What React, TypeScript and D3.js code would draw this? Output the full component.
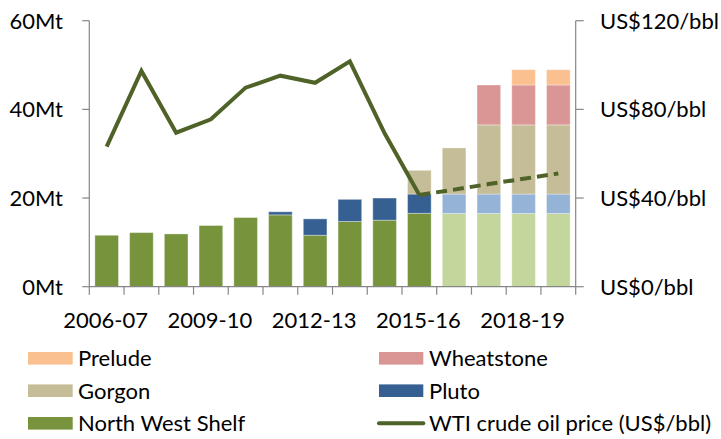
import React from "react";
import * as d3 from "d3";

const years = ["2006-07","2007-08","2008-09","2009-10","2010-11","2011-12","2012-13","2013-14","2014-15","2015-16","2016-17","2017-18","2018-19","2019-20"];
const forecastFrom = 10; // index of first projected year
const northWestShelf = [11.6, 12.2, 11.9, 13.8, 15.6, 16.2, 11.6, 14.7, 15.0, 16.55, 16.5, 16.5, 16.5, 16.5];
const pluto = [0, 0, 0, 0, 0, 0.7, 3.7, 5.0, 5.0, 4.35, 4.4, 4.4, 4.4, 4.4];
const gorgon = [0, 0, 0, 0, 0, 0, 0, 0, 0, 5.35, 10.4, 15.6, 15.6, 15.6];
const wheatstone = [0, 0, 0, 0, 0, 0, 0, 0, 0, 0, 0, 9.0, 9.0, 9.0];
const prelude = [0, 0, 0, 0, 0, 0, 0, 0, 0, 0, 0, 0, 3.45, 3.45];
const wtiActual = [63.2, 97.3, 69.5, 75.5, 89.8, 95.2, 92.0, 101.7, 69.2, 41.4];
const wtiForecast = [41.4, 43.8, 46.3, 48.7, 51.1]; // 2015-16 .. 2019-20
const leftTicks = [0, 20, 40, 60];
const rightTicks = [0, 40, 80, 120];
const xLabelYears = ["2006-07", "2009-10", "2012-13", "2015-16", "2018-19"];

const seriesDefs = [
  { key: "North West Shelf", values: northWestShelf, color: "#77933C", light: "#C3D69B" },
  { key: "Pluto", values: pluto, color: "#376092", light: "#95B3D7" },
  { key: "Gorgon", values: gorgon, color: "#C4BD97", light: "#C4BD97" },
  { key: "Wheatstone", values: wheatstone, color: "#DA9694", light: "#DA9694" },
  { key: "Prelude", values: prelude, color: "#FAC090", light: "#FAC090" },
];

const W = 721, H = 439;
const left = 89.3, right = 575.7, top = 20.7, bottom = 286.7;
const FONT = "Lato, 'Open Sans', sans-serif";
const FS = 22;
const AXIS = "#868686";
const LINE = "#4F6228";

export default function App() {
  const x = d3.scaleBand<string>().domain(years).range([left, right]).paddingInner(0.32).paddingOuter(0.16);
  const yL = d3.scaleLinear().domain([0, 60]).range([bottom, top]);
  const yR = d3.scaleLinear().domain([0, 120]).range([bottom, top]);
  const stack = d3.stack<number>().keys(seriesDefs.map((_, i) => String(i))).value((d, k) => seriesDefs[+k].values[d]);
  const stacked = stack(years.map((_, i) => i));
  const step = x.step();
  const cx = (i: number) => (x(years[i]) as number) + x.bandwidth() / 2;

  const line = d3.line<[number, number]>().x(d => d[0]).y(d => d[1]);
  const actualPts: [number, number][] = wtiActual.map((v, i) => [cx(i), yR(v)]);
  const forecastPts: [number, number][] = wtiForecast.map((v, i) => [cx(i + wtiActual.length - 1), yR(v)]);

  const legendLeft = [
    { label: "Prelude", color: "#FAC090" },
    { label: "Gorgon", color: "#C4BD97" },
    { label: "North West Shelf", color: "#77933C" },
  ];
  const legendRight = [
    { label: "Wheatstone", color: "#DA9694" },
    { label: "Pluto", color: "#376092" },
    { label: "WTI crude oil price (US$/bbl)", color: LINE, line: true },
  ];
  const rowY = [358.3, 390.7, 423.3];

  return (
    <svg width={W} height={H} style={{ position: "absolute", left: 0, top: 0, background: "#fff" }} fontFamily={FONT}>
      {/* bars */}
      {stacked.map((layer, li) => (
        <g key={li}>
          {layer.map((d, i) => {
            const h = yL(d[0]) - yL(d[1]);
            if (h <= 0.01) return null;
            const def = seriesDefs[li];
            return (
              <rect key={i} x={x(years[i])} y={yL(d[1])} width={x.bandwidth()} height={h}
                fill={i >= forecastFrom ? def.light : def.color}
                stroke="#ffffff" strokeOpacity={0.35} strokeWidth={1} />
            );
          })}
        </g>
      ))}
      {/* axes */}
      <line x1={left} x2={left} y1={top} y2={bottom} stroke={AXIS} strokeWidth={1.2} />
      <line x1={right} x2={right} y1={top} y2={bottom} stroke={AXIS} strokeWidth={1.2} />
      <line x1={left} x2={right} y1={bottom} y2={bottom} stroke={AXIS} strokeWidth={1.2} />
      {leftTicks.map(t => (
        <g key={"l" + t}>
          <line x1={left - 7} x2={left} y1={yL(t)} y2={yL(t)} stroke={AXIS} strokeWidth={1.2} />
          <text x={63} y={yL(t) + 7.9} textAnchor="end" fontSize={FS} fill="#000">{t}Mt</text>
        </g>
      ))}
      {rightTicks.map(t => (
        <g key={"r" + t}>
          <line x1={right} x2={right + 8} y1={yR(t)} y2={yR(t)} stroke={AXIS} strokeWidth={1.2} />
          <text x={600} y={yR(t) + 7.9} textAnchor="start" fontSize={FS} fill="#000">US${t}/bbl</text>
        </g>
      ))}
      {d3.range(years.length + 1).map(i => (
        <line key={"xt" + i} x1={left + i * step} x2={left + i * step} y1={bottom} y2={bottom + 8} stroke={AXIS} strokeWidth={1.2} />
      ))}
      {xLabelYears.map(yr => (
        <text key={yr} x={(x(yr) as number) + x.bandwidth() / 2 - 1} y={328.3} textAnchor="middle" fontSize={FS} fill="#000">{yr}</text>
      ))}
      {/* WTI line */}
      <path d={line(actualPts) || ""} fill="none" stroke={LINE} strokeWidth={4} strokeLinejoin="miter" />
      <path d={line(forecastPts) || ""} fill="none" stroke={LINE} strokeWidth={4} strokeDasharray="11,6" />
      {/* legend */}
      {legendLeft.map((item, i) => (
        <g key={item.label}>
          <rect x={28} y={rowY[i] - 6.3} width={44.7} height={12.6} fill={item.color} />
          <text x={78} y={rowY[i] + 7.9} fontSize={FS} fill="#000">{item.label}</text>
        </g>
      ))}
      {legendRight.map((item, i) => (
        <g key={item.label}>
          {item.line ? (
            <line x1={379} x2={423.3} y1={rowY[i]} y2={rowY[i]} stroke={item.color} strokeWidth={4} strokeLinecap="round" />
          ) : (
            <rect x={379} y={rowY[i] - 6.3} width={44.3} height={12.6} fill={item.color} />
          )}
          <text x={429} y={rowY[i] + 7.9} fontSize={FS} fill="#000">{item.label}</text>
        </g>
      ))}
    </svg>
  );
}
